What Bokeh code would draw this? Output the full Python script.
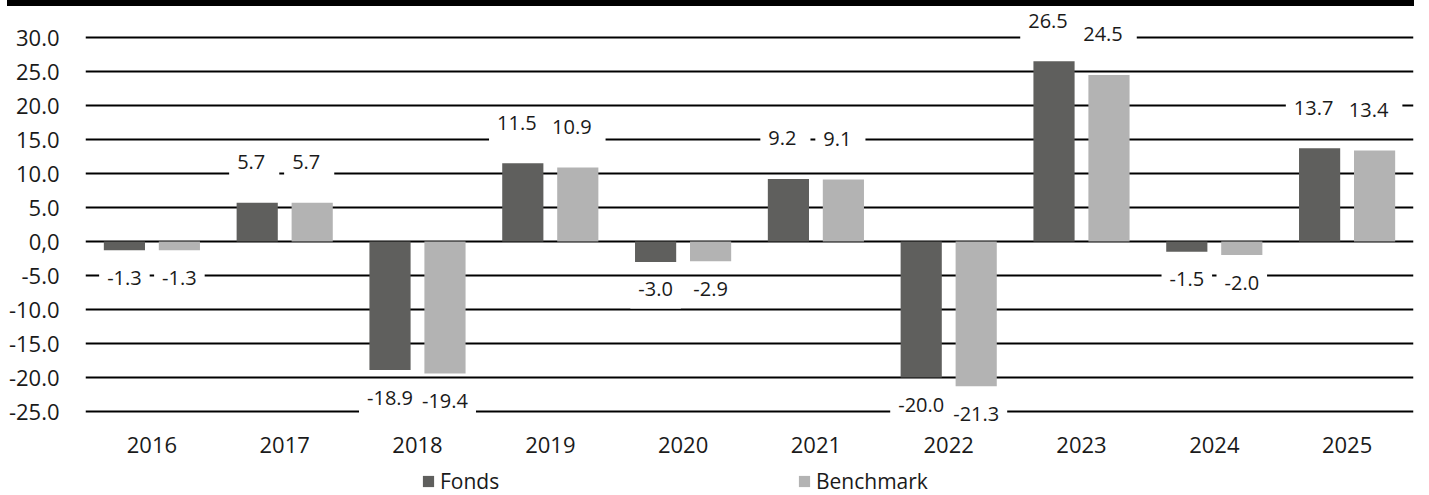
from bokeh.plotting import figure
from bokeh.models import ColumnDataSource, FixedTicker, Legend, LegendItem, Div, Range1d, CDSView, BooleanFilter
from bokeh.transform import dodge
from bokeh.layouts import column
from bokeh.core.properties import value
from bokeh.embed import file_html
from bokeh.resources import INLINE

# ---- data ----
years = ["2016", "2017", "2018", "2019", "2020", "2021", "2022", "2023", "2024", "2025"]
fonds = [-1.3, 5.7, -18.9, 11.5, -3.0, 9.2, -20.0, 26.5, -1.5, 13.7]
benchmark = [-1.3, 5.7, -19.4, 10.9, -2.9, 9.1, -21.3, 24.5, -2.0, 13.4]
series_names = ["Fonds", "Benchmark"]
y_ticks = [-25, -20, -15, -10, -5, 0, 5, 10, 15, 20, 25, 30]
y_tick_labels = ["-25.0", "-20.0", "-15.0", "-10.0", "-5.0", "0,0",
                 "5.0", "10.0", "15.0", "20.0", "25.0", "30.0"]

FONT = "Open Sans"
C_FONDS = "#5f5f5d"
C_BENCH = "#b3b3b3"
TXT = "#1a1a1a"
BOX = "white"


def offs(vals):
    # screen offsets (positive = down) for the value labels
    return [-36.5 if v >= 0 else 31.5 for v in vals]


source = ColumnDataSource(dict(
    year=years,
    fonds=fonds,
    benchmark=benchmark,
    fonds_lbl=[f"{v:.1f}" for v in fonds],
    bench_lbl=[f"{v:.1f}" for v in benchmark],
    fonds_off=offs(fonds),
    bench_off=offs(benchmark),
))

p = figure(width=1421, height=460, x_range=years, y_range=Range1d(-28.088, 34.559),
           output_backend="svg", toolbar_location=None,
           min_border_left=85, min_border_right=8, min_border_top=0, min_border_bottom=34)
p.outline_line_color = None
p.background_fill_color = "white"
p.border_fill_color = "white"

r1 = p.vbar(x=dodge("year", -0.207, range=p.x_range), top="fonds", width=0.31,
            source=source, fill_color=C_FONDS, line_color=None)
r2 = p.vbar(x=dodge("year", 0.207, range=p.x_range), top="benchmark", width=0.31,
            source=source, fill_color=C_BENCH, line_color=None)

for off, col, lbl, yo, vals in ((-0.207, "fonds", "fonds_lbl", "fonds_off", fonds),
                                (0.207, "benchmark", "bench_lbl", "bench_off", benchmark)):
    pos_view = CDSView(filter=BooleanFilter([v >= 0 for v in vals]))
    neg_view = CDSView(filter=BooleanFilter([v < 0 for v in vals]))
    for view, xo, pad in ((pos_view, -3, dict(left=8, right=14, top=4, bottom=12)),
                          (neg_view, 0, dict(left=8, right=8, top=4, bottom=12))):
        p.text(x=dodge("year", off, range=p.x_range), y=col, text=lbl, y_offset=yo,
               x_offset=xo, source=source, view=view,
               text_align="center", text_baseline="alphabetic",
               text_font=value(FONT), text_font_size=value("20px"), text_color=TXT,
               background_fill_color=BOX, padding=pad)

# grid
p.xgrid.grid_line_color = None
p.ygrid.grid_line_color = "black"
p.ygrid.grid_line_width = 2

# y axis
p.yaxis.ticker = FixedTicker(ticks=y_ticks)
p.yaxis.major_label_overrides = {t: lbl for t, lbl in zip(y_ticks, y_tick_labels)}
p.yaxis.axis_line_color = None
p.yaxis.major_tick_line_color = None
p.yaxis.minor_tick_line_color = None
p.yaxis.major_tick_in = 0
p.yaxis.major_tick_out = 0
p.yaxis.major_label_standoff = 26
p.yaxis.major_label_text_font = FONT
p.yaxis.major_label_text_font_size = "22px"
p.yaxis.major_label_text_color = TXT

# x axis
p.xaxis.axis_line_color = None
p.xaxis.major_tick_line_color = None
p.xaxis.minor_tick_line_color = None
p.xaxis.major_tick_in = 0
p.xaxis.major_tick_out = 0
p.xaxis.major_label_standoff = 4
p.xaxis.major_label_text_font = FONT
p.xaxis.major_label_text_font_size = "22px"
p.xaxis.major_label_text_color = TXT

# ---- legend strip (separate small figure holding only the legend) ----
p2 = figure(width=1421, height=29, x_range=Range1d(0, 1), y_range=Range1d(0, 1),
            output_backend="svg", toolbar_location=None,
            x_axis_location=None, y_axis_location=None,
            min_border_left=85, min_border_right=8, min_border_top=0, min_border_bottom=0)
p2.outline_line_color = None
p2.xgrid.grid_line_color = None
p2.ygrid.grid_line_color = None
swatch = ColumnDataSource(dict(x=[0.5], top=[0.0]))   # zero-height placeholder, invisible
d1 = p2.vbar(x="x", top="top", width=0.01, source=swatch, fill_color=C_FONDS, line_color=None)
d2 = p2.vbar(x="x", top="top", width=0.01, source=swatch, fill_color=C_BENCH, line_color=None)

legend = Legend(items=[LegendItem(label=series_names[0], renderers=[d1]),
                       LegendItem(label=series_names[1], renderers=[d2])],
                orientation="horizontal", location=(336, 0),
                padding=0, margin=0, spacing=0,
                glyph_width=14, glyph_height=14, label_standoff=5, label_width=357,
                label_height=14,
                label_text_font=FONT, label_text_font_size="21px", label_text_color=TXT,
                border_line_color=None, background_fill_alpha=0)
p2.add_layout(legend, "center")

topbar = Div(text="", width=1407, height=6, margin=(0, 0, 0, 7),
             styles={"background-color": "black"})

layout = column(topbar, p, p2, spacing=0)

open("out.html", "w").write(file_html(layout, INLINE))
